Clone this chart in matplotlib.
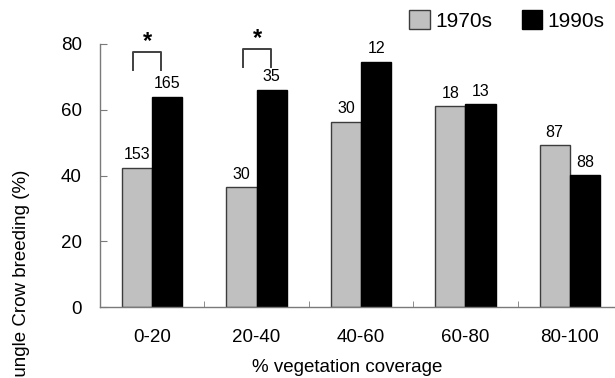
import numpy as np
import matplotlib
matplotlib.use("Agg")
import matplotlib.pyplot as plt
from matplotlib.patches import Patch

plt.rcParams['font.family'] = ['Liberation Sans', 'DejaVu Sans']

# ─── DATA ────────────────────────────────────────────────────────────────────
categories = ['0-20', '20-40', '40-60', '60-80', '80-100']
pct_1970s = [42.3, 36.4, 56.3, 61.1, 49.2]
pct_1990s = [63.9, 66.0, 74.6, 61.7, 40.1]
n_1970s = ['153', '30', '30', '18', '87']
n_1990s = ['165', '35', '12', '13', '88']
signif_groups = [0, 1]          # categories marked with *

GRAY = '#c0c0c0'
EDGE = '#3c3c3c'
AXC = '#7a7a7a'

# ─── FIGURE ──────────────────────────────────────────────────────────────────
fig = plt.figure(figsize=(6.15, 3.78), dpi=100)
W, H = 615, 378
ax = fig.add_axes([100 / W, (H - 307) / H, 522 / W, 263 / H])

x = np.arange(len(categories))
bw = 0.29
b1 = ax.bar(x - bw / 2, pct_1970s, bw, color=GRAY, edgecolor=EDGE, lw=1.0, label='1970s')
b2 = ax.bar(x + bw / 2, pct_1990s, bw, color='black', edgecolor='black', lw=1.0, label='1990s')

for bars, labels in ((b1, n_1970s), (b2, n_1990s)):
    for bar, lab in zip(bars, labels):
        ax.annotate(lab, (bar.get_x() + bar.get_width() / 2, bar.get_height()),
                    xytext=(0, 4), textcoords='offset points',
                    ha='center', va='bottom', fontsize=11.5)

# significance brackets
br_offsets = [(-0.184, 0.085), (-0.129, 0.14)]
br_heights = [(77.5, 72.0), (78.4, 73.1)]
for g, (lo, hi), (top, bot) in zip(signif_groups, br_offsets, br_heights):
    ax.plot([g + lo, g + lo, g + hi, g + hi], [bot, top, top, bot],
            color='#404040', lw=1.4, clip_on=False)
    ax.text(g + (lo + hi) / 2, top - 0.2, '*', ha='center', va='bottom',
            fontsize=17, fontweight='bold', clip_on=False)

ax.set_xlim(-0.5, len(categories) - 0.5)
ax.set_ylim(0, 80)
ax.set_yticks([0, 20, 40, 60, 80])
ax.set_xticks(x)
ax.set_xticklabels(categories)
ax.set_xticks(np.arange(0.5, len(categories) - 0.5), minor=True)

for s in ('top', 'right'):
    ax.spines[s].set_visible(False)
for s in ('left', 'bottom'):
    ax.spines[s].set_color(AXC)
    ax.spines[s].set_linewidth(1.0)

ax.tick_params(axis='x', which='major', length=0, pad=16, labelsize=13.5)
ax.tick_params(axis='x', which='minor', direction='in', length=4, color=AXC)
ax.tick_params(axis='y', direction='in', length=5, color=AXC, pad=13, labelsize=13.5)

# axis titles (the y title is cut off at the left edge in the original)
fig.text(22 / W, 1 - 170 / H, 'Jungle Crow breeding (%)', rotation=90,
         ha='center', va='top', fontsize=13.5)
fig.text(347 / W, 1 - 368 / H, '% vegetation coverage', ha='center', va='center',
         fontsize=13.5)

handles = [Patch(facecolor=GRAY, edgecolor=EDGE, lw=1.0), Patch(facecolor='black', edgecolor='black')]
fig.legend(handles, ['1970s', '1990s'], loc='upper right', bbox_to_anchor=(1.0, 1.0),
           ncol=2, frameon=False, fontsize=15, handlelength=1.0, handleheight=1.0,
           handletextpad=0.25, columnspacing=1.4, borderaxespad=0.2, borderpad=0.3)

fig.savefig('out.png', dpi=100)
